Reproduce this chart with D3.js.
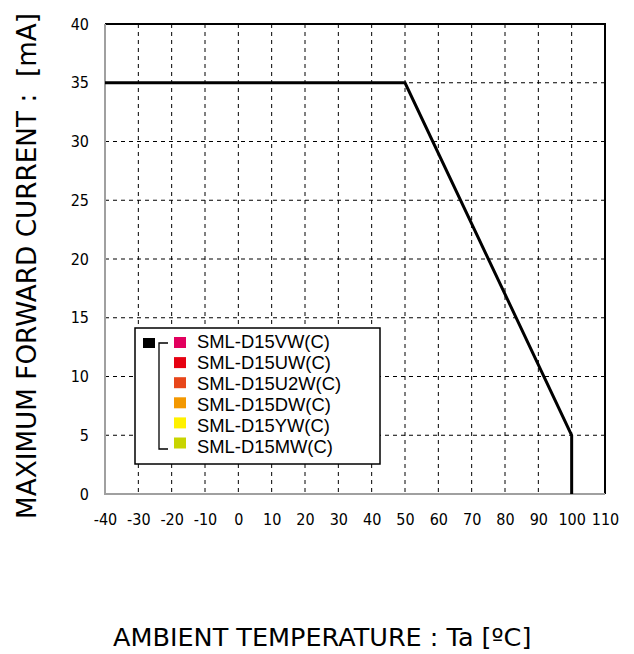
<!DOCTYPE html>
<html>
<head>
<meta charset="utf-8">
<script src="https://cdn.jsdelivr.net/npm/d3@7/dist/d3.min.js"></script>
<style>
  body { margin: 0; background: #fff; }
  svg text { fill: #000; }
</style>
</head>
<body>
<div class="chart"></div>
<script>
// derating curve
var temps = [-40, 50, 100, 100];
var currents = [35, 35, 5, 0];
var xTicks = [-40, -30, -20, -10, 0, 10, 20, 30, 40, 50, 60, 70, 80, 90, 100, 110];
var yTicks = [0, 5, 10, 15, 20, 25, 30, 35, 40];
var legendNames = ["SML-D15VW(C)", "SML-D15UW(C)", "SML-D15U2W(C)", "SML-D15DW(C)", "SML-D15YW(C)", "SML-D15MW(C)"];
var legendColors = ["#e2005e", "#e60012", "#e8461a", "#f39800", "#fff100", "#c8d400"];

var width = 634, height = 654;
var pLeft = 105, pRight = 605, pTop = 24, pBottom = 494;
var tickFont = "'DejaVu Sans Condensed', 'DejaVu Sans'";

var svg = d3.select(".chart").append("svg")
    .attr("width", width)
    .attr("height", height);

var x = d3.scaleLinear().domain([-40, 110]).range([pLeft, pRight]);
var y = d3.scaleLinear().domain([0, 40]).range([pBottom, pTop]);

// dashed grid
svg.selectAll("line.vg")
    .data(xTicks.slice(1, -1))
    .enter().append("line")
    .attr("x1", function (d) { return x(d); })
    .attr("x2", function (d) { return x(d); })
    .attr("y1", pTop).attr("y2", pBottom)
    .attr("stroke", "#000").attr("stroke-width", 1)
    .attr("stroke-dasharray", "4,4");

svg.selectAll("line.hg")
    .data(yTicks.slice(1, -1))
    .enter().append("line")
    .attr("y1", function (d) { return y(d); })
    .attr("y2", function (d) { return y(d); })
    .attr("x1", pLeft).attr("x2", pRight)
    .attr("stroke", "#000").attr("stroke-width", 1)
    .attr("stroke-dasharray", "4,4");

// frame: top/right black, left/bottom grey
svg.append("path")
    .attr("d", "M" + pLeft + "," + pTop + "H" + pRight + "V" + pBottom)
    .attr("fill", "none").attr("stroke", "#000").attr("stroke-width", 2);
svg.append("path")
    .attr("d", "M" + pLeft + "," + pTop + "V" + pBottom + "H" + pRight)
    .attr("fill", "none").attr("stroke", "#a0a0a0").attr("stroke-width", 2);

// axes labels
var fmt = function (d) { return String(d); };
var xAxis = d3.axisBottom(x).tickValues(xTicks).tickSize(0).tickPadding(20).tickFormat(fmt);
var gx = svg.append("g").attr("transform", "translate(0," + pBottom + ")").call(xAxis);
gx.select(".domain").remove();
gx.selectAll("text").attr("font-family", tickFont).attr("font-size", 16);

var yAxis = d3.axisLeft(y).tickValues(yTicks).tickSize(0).tickPadding(16).tickFormat(fmt);
var gy = svg.append("g").attr("transform", "translate(" + pLeft + ",0)").call(yAxis);
gy.select(".domain").remove();
gy.selectAll("text").attr("font-family", tickFont).attr("font-size", 16);

// curve
var line = d3.line()
    .x(function (d) { return x(d[0]); })
    .y(function (d) { return y(d[1]); });
svg.append("path")
    .datum(temps.map(function (t, i) { return [t, currents[i]]; }))
    .attr("d", line)
    .attr("fill", "none")
    .attr("stroke", "#000")
    .attr("stroke-width", 3);

// legend
var lg = svg.append("g");
lg.append("rect")
    .attr("x", 135).attr("y", 328).attr("width", 245).attr("height", 136)
    .attr("fill", "#fff").attr("stroke", "#000").attr("stroke-width", 1.5);
lg.append("rect")
    .attr("x", 143).attr("y", 338).attr("width", 12).attr("height", 10)
    .attr("fill", "#000");
lg.append("path")
    .attr("d", "M168,343H159V449H168")
    .attr("fill", "none").attr("stroke", "#000").attr("stroke-width", 1.3);
var rows = lg.selectAll("g.row")
    .data(legendNames)
    .enter().append("g");
rows.append("rect")
    .attr("x", 174)
    .attr("y", function (d, i) { return 337 + i * 20.1; })
    .attr("width", 12).attr("height", 11)
    .attr("fill", function (d, i) { return legendColors[i]; });
rows.append("text")
    .attr("x", 197)
    .attr("y", function (d, i) { return 348 + i * 20.9; })
    .attr("font-family", "Liberation Sans").attr("font-size", 18.4)
    .text(function (d) { return d; });

// titles
svg.append("text")
    .attr("x", 113).attr("y", 646)
    .attr("font-family", "DejaVu Sans").attr("font-size", 25.5)
    .text("AMBIENT TEMPERATURE : Ta [ºC]");

svg.append("text")
    .attr("transform", "translate(36,266) rotate(-90)")
    .attr("text-anchor", "middle")
    .attr("font-family", "DejaVu Sans").attr("font-size", 26)
    .attr("textLength", 506).attr("lengthAdjust", "spacingAndGlyphs")
    .style("white-space", "pre")
    .text("MAXIMUM FORWARD CURRENT :  [mA]");
</script>
</body>
</html>
